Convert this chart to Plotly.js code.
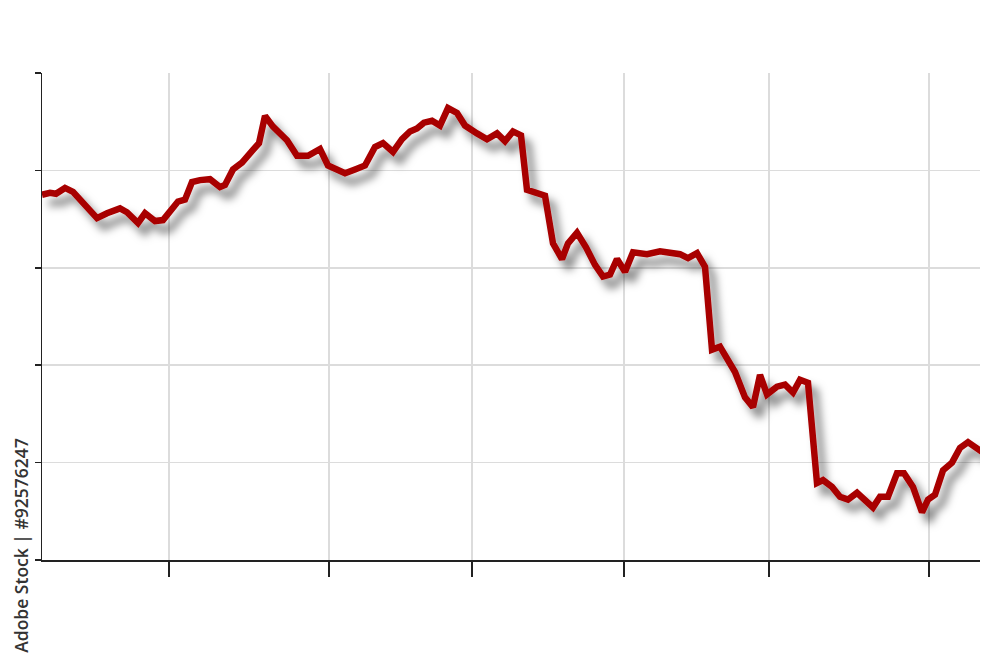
<!DOCTYPE html>
<html>
<head>
<meta charset="utf-8">
<script src="https://cdn.plot.ly/plotly-3.0.1.min.js"></script>
<style>html,body{margin:0;padding:0;background:#fff;}#chart{width:1000px;height:667px;}</style>
</head>
<body>
<div id="chart"></div>
<script>
const xValues = [0,8,14,23,31,41,55,65,78,85,96,103,113,121,136,143,150,158,168,178,183,191,200,211,217,223,231,245,255,266,278,286,293,303,313,323,333,341,351,360,368,375,382,390,398,406,415,423,435,445,455,463,471,479,485,493,503,511,520,526,535,544,553,561,568,575,583,591,605,618,625,631,638,646,655,663,670,678,685,693,703,711,718,725,735,743,751,758,766,775,781,790,798,806,815,823,831,838,846,855,862,871,880,886,893,901,910,918,926,940];
const yValues = [3.75,3.77,3.76,3.82,3.78,3.67,3.51,3.56,3.61,3.57,3.46,3.56,3.48,3.49,3.68,3.70,3.88,3.90,3.91,3.83,3.85,4.01,4.08,4.21,4.28,4.56,4.45,4.31,4.15,4.15,4.22,4.05,4.02,3.97,4.01,4.05,4.24,4.28,4.19,4.32,4.40,4.43,4.49,4.51,4.46,4.64,4.59,4.46,4.38,4.32,4.38,4.30,4.40,4.36,3.80,3.77,3.74,3.25,3.09,3.25,3.36,3.21,3.03,2.91,2.93,3.09,2.96,3.16,3.14,3.17,3.16,3.14,3.14,3.10,3.15,3.01,2.16,2.19,2.08,1.93,1.67,1.57,1.90,1.70,1.78,1.80,1.72,1.85,1.82,0.79,0.82,0.75,0.65,0.62,0.69,0.62,0.54,0.65,0.65,0.89,0.89,0.75,0.49,0.62,0.67,0.92,1.00,1.15,1.21,1.11,1.18];
const xTickVals = [127,287,430,582,727,887];
const yTickVals = [0,1,2,3,4,5];
const watermark = "Adobe Stock | #92576247";

const trace = {
  x: xValues, y: yValues, type: 'scatter', mode: 'lines',
  line: {color: '#a80000', width: 6.5, shape: 'linear'},
  hoverinfo: 'skip'
};
const layout = {
  width: 1000, height: 667,
  margin: {l: 42, r: 20, t: 73, b: 107},
  paper_bgcolor: '#ffffff', plot_bgcolor: '#ffffff',
  showlegend: false,
  xaxis: {
    range: [0, 938], tickmode: 'array', tickvals: xTickVals,
    showticklabels: false, ticks: 'outside', ticklen: 15, tickwidth: 1.5, tickcolor: '#222',
    showgrid: true, gridcolor: '#dcdcdc', gridwidth: 1.5,
    showline: true, linecolor: '#222', linewidth: 1.5, zeroline: false
  },
  yaxis: {
    range: [0, 5], tickmode: 'array', tickvals: yTickVals,
    showticklabels: false, ticks: 'outside', ticklen: 6, tickwidth: 1.5, tickcolor: '#222',
    showgrid: true, gridcolor: '#dcdcdc', gridwidth: 1.5,
    showline: true, linecolor: '#222', linewidth: 1.5, zeroline: false
  },
  annotations: [{
    text: watermark, xref: 'paper', yref: 'paper',
    x: -0.0225, y: 0.031, xanchor: 'center', yanchor: 'middle',
    textangle: -90, showarrow: false,
    font: {family: 'Open Sans, sans-serif', size: 17.5, color: '#333333', weight: 600}
  }]
};
Plotly.newPlot('chart', [trace], layout, {staticPlot: true}).then(function(gd){
  const svg = gd.querySelector('svg.main-svg');
  const ns = 'http://www.w3.org/2000/svg';
  let defs = svg.querySelector('defs');
  if (!defs) { defs = document.createElementNS(ns, 'defs'); svg.insertBefore(defs, svg.firstChild); }
  const f = document.createElementNS(ns, 'filter');
  f.setAttribute('id', 'lineShadow');
  f.setAttribute('x', '-20%'); f.setAttribute('y', '-20%');
  f.setAttribute('width', '140%'); f.setAttribute('height', '140%');
  f.setAttribute('filterUnits', 'objectBoundingBox');
  const ds = document.createElementNS(ns, 'feDropShadow');
  ds.setAttribute('dx', '7'); ds.setAttribute('dy', '9');
  ds.setAttribute('stdDeviation', '4');
  ds.setAttribute('flood-color', '#000'); ds.setAttribute('flood-opacity', '0.5');
  f.appendChild(ds); defs.appendChild(f);
  gd.querySelectorAll('.scatterlayer .js-line').forEach(function(p){
    p.setAttribute('filter', 'url(#lineShadow)');
    p.style.strokeLinejoin = 'miter';
  });
});
</script>
</body>
</html>
